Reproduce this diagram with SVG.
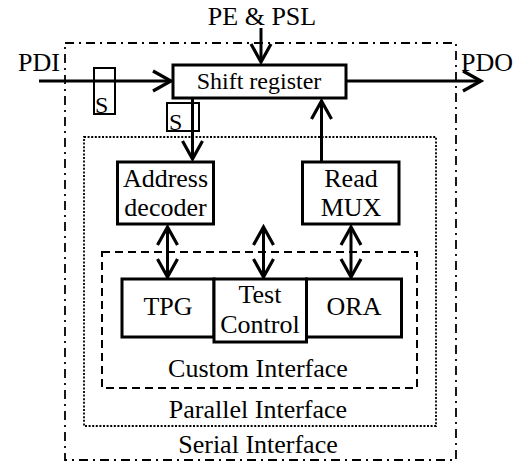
<svg xmlns="http://www.w3.org/2000/svg" width="518" height="463" viewBox="0 0 518 463" font-family="Liberation Serif, DejaVu Serif, serif">
  <style>
    text { font-family: 'Liberation Serif', 'DejaVu Serif', serif; font-size: 26px; fill: #000; }
    .mid { text-anchor: middle; }
    .small { font-size: 24px; }
    .block { fill: #fff; stroke: #000; stroke-width: 3; }
    .scan { fill: none; stroke: #000; stroke-width: 2; }
    .wire { fill: none; stroke: #000; stroke-width: 3; }
    .serial { fill: none; stroke: #000; stroke-width: 1.8; stroke-dasharray: 9 5 2 5; }
    .parallel { fill: none; stroke: #000; stroke-width: 1.8; stroke-dasharray: 2 1.6; }
    .custom { fill: none; stroke: #000; stroke-width: 2; stroke-dasharray: 8 5; }
  </style>
  <defs>
    <marker id="vhead" markerUnits="userSpaceOnUse" markerWidth="26" markerHeight="26" viewBox="-22 -13 26 26" refX="0" refY="0" orient="auto-start-reverse">
      <path d="M-18,-10 L0,0 L-18,10" fill="none" stroke="#000" stroke-width="3.2"/>
    </marker>
  </defs>

  <!-- interface boundaries -->
  <g id="serial-interface">
    <rect class="serial" x="65" y="43" width="391" height="417"/>
    <text class="mid" x="258" y="453">Serial Interface</text>
  </g>
  <g id="parallel-interface">
    <rect class="parallel" x="84" y="137" width="352" height="289"/>
    <text class="mid" x="258" y="418">Parallel Interface</text>
  </g>
  <g id="custom-interface">
    <rect class="custom" x="102" y="252" width="315" height="136"/>
    <text class="mid" x="258" y="377">Custom Interface</text>
  </g>

  <!-- connectors -->
  <g id="connectors">
    <line class="wire" x1="39" y1="81" x2="171" y2="81" marker-end="url(#vhead)"/>
    <line class="wire" x1="346" y1="81" x2="481" y2="81" marker-end="url(#vhead)"/>
    <line class="wire" x1="261" y1="28" x2="261" y2="62" marker-end="url(#vhead)" stroke-width="2"/>
    <line class="wire" x1="192.5" y1="98" x2="192.5" y2="159" marker-end="url(#vhead)"/>
    <line class="wire" x1="321.5" y1="162" x2="321.5" y2="101" marker-end="url(#vhead)"/>
    <line class="wire" x1="167.5" y1="227" x2="167.5" y2="277" marker-start="url(#vhead)" marker-end="url(#vhead)"/>
    <line class="wire" x1="263.5" y1="227" x2="263.5" y2="277" marker-start="url(#vhead)" marker-end="url(#vhead)"/>
    <line class="wire" x1="351" y1="227" x2="351" y2="277" marker-start="url(#vhead)" marker-end="url(#vhead)"/>
  </g>

  <!-- external labels -->
  <g id="pdi"><text x="18" y="71">PDI</text></g>
  <g id="pdo"><text x="461" y="71">PDO</text></g>
  <g id="pe-psl"><text class="mid" x="262" y="25">PE &amp; PSL</text></g>

  <!-- scan cells -->
  <g id="scan-in">
    <rect class="scan" x="94" y="68" width="21" height="46"/>
    <text class="small" x="95" y="113">S</text>
  </g>
  <g id="scan-out">
    <rect class="scan" x="167" y="103" width="32" height="28"/>
    <text class="small" x="169" y="130">S</text>
  </g>

  <!-- blocks -->
  <g id="shift-register">
    <rect class="block" x="173" y="65" width="173" height="33"/>
    <text class="mid small" x="259" y="89">Shift register</text>
  </g>
  <g id="address-decoder">
    <rect class="block" x="117.5" y="162" width="96" height="62"/>
    <text class="mid" x="165.5" y="187">Address</text>
    <text class="mid" x="165.5" y="216">decoder</text>
  </g>
  <g id="read-mux">
    <rect class="block" x="302.5" y="162" width="96.5" height="62"/>
    <text class="mid" x="351" y="187">Read</text>
    <text class="mid" x="351" y="216">MUX</text>
  </g>
  <g id="tpg">
    <rect class="block" x="122" y="279" width="92" height="58"/>
    <text class="mid" x="168" y="315">TPG</text>
  </g>
  <g id="ora">
    <rect class="block" x="306.5" y="279" width="95" height="58"/>
    <text class="mid" x="354" y="315">ORA</text>
  </g>
  <g id="test-control">
    <rect class="block" x="214" y="279" width="92.5" height="63"/>
    <text class="mid" x="260" y="303">Test</text>
    <text class="mid" x="260" y="333">Control</text>
  </g>
</svg>
